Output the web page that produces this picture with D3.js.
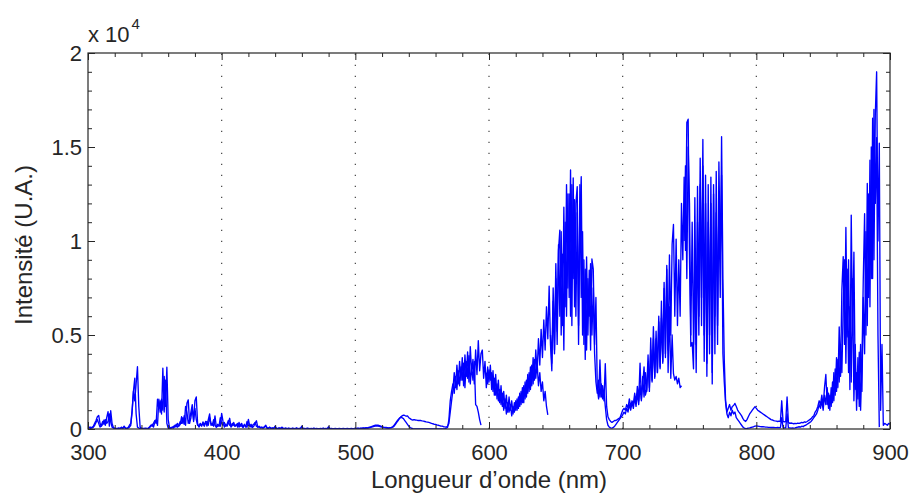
<!DOCTYPE html>
<html>
<head>
<meta charset="utf-8">
<script src="https://cdn.jsdelivr.net/npm/d3@7"></script>
<style>
  body { margin: 0; background: #fff; }
  svg { display: block; font-family: "Liberation Sans", Arial, Helvetica, sans-serif; }
  .axis text { fill: #262626; font-size: 22px; }
  .axis line { stroke: #262626; }
</style>
</head>
<body>
<div id="chart"></div>
<script>
// spectre sur une grille de 1 nm, de 300 a 900 nm
var lambdaDebut = 300;
var lambdaFin = 900;

// premier spectre (continu)
var intensiteA = [
  50, 100, 30, 80, 150, 300, 450, 650, 720, 300,
  150, 250, 480, 200, 600, 920, 150, 970, 300, 80,
  40, 30, 20, 50, 30, 100, 40, 150, 60, 30,
  80, 200, 300, 1000, 2000, 1500, 2400, 3310, 1200, 100,
  40, 30, 20, 50, 20, 30, 60, 150, 250, 100,
  350, 500, 200, 1580, 900, 1580, 1000, 2800, 1200, 3290,
  500, 60, 40, 100, 50, 200, 120, 300, 150, 250,
  650, 300, 710, 200, 1370, 1550, 300, 600, 1100, 500,
  1500, 1710, 300, 100, 250, 150, 380, 200, 400, 150,
  500, 800, 200, 300, 150, 700, 100, 150, 200, 150,
  830, 400, 100, 250, 150, 300, 570, 100, 200, 350,
  150, 250, 100, 350, 150, 300, 80, 200, 150, 100,
  510, 150, 250, 80, 150, 300, 440, 100, 150, 80,
  100, 60, 120, 200, 60, 40, 100, 30, 60, 40,
  150, 40, 30, 60, 30, 100, 40, 30, 50, 20,
  40, 30, 20, 40, 30, 20, 60, 20, 30, 40,
  150, 20, 30, 20, 40, 30, 20, 30, 20, 40,
  20, 30, 20, 20, 30, 20, 40, 20, 30, 20,
  120, 20, 30, 20, 20, 30, 20, 20, 30, 20,
  20, 30, 20, 20, 30, 20, 20, 30, 20, 20,
  40, 30, 40, 30, 50, 40, 60, 50, 70, 60,
  80, 100, 120, 150, 180, 200, 210, 200, 180, 150,
  120, 100, 90, 80, 70, 60, 70, 80, 100, 150,
  250, 350, 450, 550, 650, 700, 740, 720, 680, 700,
  600, 550, 500, 480, 500, 480, 470, 450, 460, 450,
  430, 420, 400, 380, 370, 350, 330, 300, 280, 250,
  250, 220, 200, 180, 150, 150, 120, 110, 100, 150,
  300, 900, 1500, 2070, 3000, 2200, 3400, 2400, 3600, 2600,
  3800, 2300, 3940, 2800, 4100, 2500, 4380, 3000, 3700, 2400,
  4200, 2900, 4700, 3100, 4000, 4200, 2700, 3600, 2200, 3300,
  2500, 3400, 2100, 3100, 1800, 2900, 1600, 2600, 1400, 2300,
  1200, 2000, 1100, 1800, 900, 1700, 1000, 1500, 800, 1400,
  1000, 1600, 1100, 1900, 1300, 2200, 1400, 2500, 1700, 2900,
  2000, 3300, 2300, 3800, 2600, 4200, 3000, 4800, 3400, 5300,
  3800, 5800, 4200, 6500, 4800, 7600, 4500, 3100, 6800, 4000,
  8000, 4500, 9500, 10580, 5000, 9300, 4200, 11000, 6000, 12500,
  7000, 13780, 5500, 13350, 6500, 12000, 12890, 4500, 11000, 13420,
  5000, 9000, 3700, 9150, 5000, 8450, 4200, 9040, 8500, 4500,
  7000, 2200, 1600, 3670, 1700, 2300, 1500, 3470, 1200, 650,
  500, 400, 350, 400, 450, 450, 500, 550, 600, 800,
  1000, 1100, 1000, 1300, 1100, 1600, 1200, 1500, 1300, 1900,
  1400, 2270, 1500, 3500, 1600, 2400, 3300, 1800, 2100, 3940,
  2000, 4840, 2600, 5440, 2800, 4800, 3000, 5700, 3200, 5900,
  3500, 7480, 3800, 8700, 4200, 9260, 5000, 9830, 10880, 6000,
  10100, 5500, 9000, 6000, 12000, 9000, 13400, 9500, 16300, 16480,
  9000, 4400, 4600, 3200, 12300, 4500, 12900, 6000, 14400, 5500,
  14000, 3600, 12000, 2800, 13000, 4000, 13400, 2400, 12500, 4000,
  13700, 5500, 12000, 7000, 15550, 8000, 3700, 1500, 900, 1100,
  1300, 1000, 1200, 1250, 1360, 1200, 1010, 900, 800, 700,
  550, 450, 400, 500, 650, 800, 900, 1000, 1100, 1190,
  1100, 1000, 950, 900, 850, 800, 750, 700, 650, 600,
  550, 500, 480, 450, 430, 420, 400, 420, 400, 1500,
  400, 380, 400, 1700, 350, 300, 320, 300, 280, 300,
  290, 310, 300, 320, 350, 330, 380, 360, 400, 450,
  500, 550, 650, 700, 900, 1000, 1200, 1500, 1300, 1800,
  1200, 2200, 2900, 1300, 1900, 1000, 2200, 1400, 3000, 1800,
  3800, 2200, 5430, 2800, 7400, 9170, 4500, 10720, 4900, 9000,
  2100, 11380, 5000, 9400, 2100, 3000, 1600, 4080, 1000, 3500,
  7920, 11450, 5000, 13060, 7000, 14300, 8000, 16530, 9000, 16700,
  19000, 10000, 15200, 1000, 4500, 200, 300, 250, 200, 300,
  250
];

// second spectre (fenetres qui se chevauchent, null = pas de mesure)
var intensiteB = [
  30, 60, 100, 50, 100, 200, 350, 500, 300, 100,
  200, 400, 250, 500, 300, 400, 800, 400, 100, 50,
  30, 20, 30, 40, 20, 60, 30, 100, 40, 20,
  50, 100, 200, 900, 2000, 2700, 800, 100, 50, 30,
  20, 20, 30, 20, 30, 40, 100, 200, 150, 300,
  450, 300, 1580, 1100, 1500, 800, 3230, 900, 2600, 300,
  50, 40, 80, 60, 150, 100, 250, 100, 200, 400,
  300, 600, 250, 1200, 900, 300, 500, 900, 1300, 400,
  1100, 500, 200, 150, 300, 200, 300, 150, 350, 400,
  200, 600, 300, 200, 500, 200, 100, 250, 150, 600,
  300, 200, 350, 150, 250, 450, 200, 150, 300, 200,
  150, 200, 300, 100, 250, 150, 100, 250, 100, 400,
  200, 200, 100, 200, 250, 350, 150, 100, 100, 60,
  80, 50, 100, 150, 40, 50, 80, 30, 40, 30,
  100, 30, 20, 40, 20, 60, 30, 20, 40, 10,
  30, 20, 10, 30, 20, 10, 40, 10, 20, 30,
  80, 10, 20, 10, 30, 20, 10, 20, 10, 30,
  10, 20, 10, 10, 20, 10, 30, 10, 20, 10,
  60, 10, 20, 10, 10, 20, 10, 10, 20, 10,
  10, 20, 10, 10, 20, 10, 10, 20, 10, 10,
  20, 20, 30, 20, 30, 30, 40, 40, 50, 50,
  60, 80, 100, 120, 140, 160, 170, 160, 140, 120,
  100, 80, 70, 60, 50, 50, 60, 80, 120, 200,
  300, 400, 500, 580, 620, 600, 550, 450, 350, 250,
  150, 80, 40, 20, 10, 5, 0, 0, 0, 0,
  0, 0, 0, 0, 0, 0, 0, 0, 0, 0,
  0, 0, 0, 0, 0, 0, 10, 20, 40, 80,
  500, 1500, 2000, 2400, 1900, 2800, 2100, 3100, 2300, 3300,
  2600, 3500, 2200, 3600, 2700, 3900, 2400, 3300, 2600, 3600,
  1300, 1200, 900, 500, 210, null, null, null, 3000, 2400,
  3140, 2600, 3000, 2000, 2700, 1800, 2400, 1500, 2100, 1300,
  1900, 1000, 1600, 800, 1400, 900, 1300, 700, 1200, 900,
  1500, 1000, 1700, 1200, 2000, 1400, 2300, 1600, 2600, 1900,
  3000, 2100, 3400, 2400, 3700, 2700, 3500, 2300, 3000, 2000,
  2500, 1500, 2000, 1200, 750, null, 5000, 3500, 7500, 4200,
  8800, 5200, 9800, 6000, 10500, 5500, 11800, 6500, 13000, 7500,
  12500, 6000, 13000, 8000, 12200, 6000, 11500, 5500, 13000, 7000,
  10500, 4500, 8500, 4200, 8000, 6000, 8800, 5000, 7500, 4000,
  2500, 1900, 2600, 1700, 2400, 1600, 2000, 1200, 500, 200,
  100, 60, 50, 80, 150, 250, 350, 450, 550, 650,
  750, 900, 800, 1100, 900, 1300, 1000, 1400, 1100, 1700,
  1200, 1900, 1300, 2300, 1500, 2800, 1700, 3000, 2000, 3500,
  2200, 4200, 2500, 4800, 2700, 5200, 3000, 6000, 3300, 6800,
  3600, 7800, 4000, 8500, 3000, 6500, 2700, 5000, 2940, 2600,
  2800, 2400, 2700, 2200, 2300, null, 10000, 14000, 8000, 15000,
  12000, 5000, 11000, 4500, 9000, 3000, 11000, 5000, 13000, 7000,
  15400, 5000, 13500, 3500, 11000, 5000, 12000, 3000, 13000, 6000,
  11500, 4500, 14200, 9000, 13500, 4000, 2500, 1400, 800, 600,
  900, 700, 1000, 800, 900, 600, 500, 400, 300, 200,
  100, 50, 20, 30, 50, 60, 80, 100, 120, 150,
  160, 150, 140, 130, 120, 120, 110, 100, 100, 90,
  90, 80, 80, 80, 70, 70, 80, 70, 70, 600,
  70, 60, 60, 800, 60, 60, 50, 60, 50, 60,
  80, 100, 120, 100, 150, 120, 180, 200, 250, 300,
  350, 400, 500, 600, 700, 800, 1000, 1300, 1100, 1500,
  1000, 1800, 1300, 2200, 1100, 1800, 1200, 2500, 1500, 3200,
  2000, 3700, 2500, 4500, 3000, 6500, 9000, 3500, 8500, 3000,
  6500, 2500, 8000, 1500, 4500, 1000, 3800, 1200, 4500, 2000,
  7000, 4000, 10500, 5500, 12500, 6500, 15000, 8000, 17000, 12000,
  15500, 5000, 100, null, null, null, null, null, null, null,
  null
];

var xTicks = [300, 400, 500, 600, 700, 800, 900];
var xTickLabels = ["300", "400", "500", "600", "700", "800", "900"];
var yTicks = [0, 5000, 10000, 15000, 20000];
var yTickLabels = ["0", "0.5", "1", "1.5", "2"];

var width = 913, height = 494;
var margin = {left: 88, right: 23, top: 53, bottom: 65};
var w = width - margin.left - margin.right;
var h = height - margin.top - margin.bottom;

var svg = d3.select('#chart').append('svg')
  .attr('width', width).attr('height', height);

var x = d3.scaleLinear().domain([lambdaDebut, lambdaFin]).range([0, w]);
var y = d3.scaleLinear().domain([0, 20000]).range([h, 0]);

var g = svg.append('g').attr('transform', 'translate(' + margin.left + ',' + margin.top + ')');

// grille verticale en pointilles
g.selectAll('.grid').data(xTicks.slice(1, -1)).enter().append('line')
  .attr('class', 'grid')
  .attr('x1', function (d) { return x(d); }).attr('x2', function (d) { return x(d); })
  .attr('y1', h).attr('y2', 0)
  .attr('stroke', '#444').attr('stroke-width', 1.2)
  .attr('stroke-dasharray', '1.2,9.8');

g.append('clipPath').attr('id', 'clip').append('rect')
  .attr('width', w).attr('height', h);

function points(arr) {
  return arr.map(function (v, i) { return [lambdaDebut + i, v]; });
}

var line = d3.line()
  .defined(function (d) { return d[1] != null; })
  .x(function (d) { return x(d[0]); })
  .y(function (d) { return y(d[1]); });

[intensiteB, intensiteA].forEach(function (serie) {
  g.append('path')
    .datum(points(serie))
    .attr('clip-path', 'url(#clip)')
    .attr('fill', 'none')
    .attr('stroke', '#0000ff')
    .attr('stroke-width', 1.35)
    .attr('stroke-linejoin', 'round')
    .attr('d', line);
});

// axes facon matlab : graduations vers l'interieur sur les 4 cotes
var xMinor = d3.range(300, 901, 20).filter(function (d) { return d % 100 != 0; });
var yMinor = d3.range(0, 20001, 1000).filter(function (d) { return d % 5000 != 0; });

function clean(sel) { sel.select('.domain').remove(); }

g.append('g').attr('class', 'axis').attr('transform', 'translate(0,' + h + ')')
  .call(d3.axisBottom(x).tickValues(xTicks).tickSize(-7).tickPadding(15)
    .tickFormat(function (d, i) { return xTickLabels[i]; })).call(clean);
g.append('g').attr('class', 'axis').attr('transform', 'translate(0,' + h + ')')
  .call(d3.axisBottom(x).tickValues(xMinor).tickSize(-4).tickFormat('')).call(clean);
g.append('g').attr('class', 'axis')
  .call(d3.axisTop(x).tickValues(xTicks).tickSize(-7).tickFormat('')).call(clean);
g.append('g').attr('class', 'axis')
  .call(d3.axisTop(x).tickValues(xMinor).tickSize(-4).tickFormat('')).call(clean);

g.append('g').attr('class', 'axis')
  .call(d3.axisLeft(y).tickValues(yTicks).tickSize(-7).tickPadding(6)
    .tickFormat(function (d, i) { return yTickLabels[i]; })).call(clean);
g.append('g').attr('class', 'axis')
  .call(d3.axisLeft(y).tickValues(yMinor).tickSize(-4).tickFormat('')).call(clean);
g.append('g').attr('class', 'axis').attr('transform', 'translate(' + w + ',0)')
  .call(d3.axisRight(y).tickValues(yTicks).tickSize(-7).tickFormat('')).call(clean);
g.append('g').attr('class', 'axis').attr('transform', 'translate(' + w + ',0)')
  .call(d3.axisRight(y).tickValues(yMinor).tickSize(-4).tickFormat('')).call(clean);

g.append('rect')
  .attr('width', w).attr('height', h)
  .attr('fill', 'none').attr('stroke', '#262626').attr('stroke-width', 1.2);

// multiplicateur x 10^4
var mult = svg.append('text')
  .attr('x', 88).attr('y', 42)
  .attr('fill', '#262626').style('font-size', '22px');
mult.append('tspan').text('x 10');
mult.append('tspan').attr('dy', -13).attr('dx', 2).style('font-size', '15px').text('4');

svg.append('text')
  .attr('x', margin.left + w / 2).attr('y', 488)
  .attr('text-anchor', 'middle')
  .attr('fill', '#262626').style('font-size', '24px')
  .text('Longueur d\u2019onde (nm)');

svg.append('text')
  .attr('transform', 'translate(32,' + (margin.top + h / 2 + 4) + ') rotate(-90)')
  .attr('text-anchor', 'middle')
  .attr('fill', '#262626').style('font-size', '24px')
  .text('Intensit\u00e9 (U.A.)');
</script>
</body>
</html>
